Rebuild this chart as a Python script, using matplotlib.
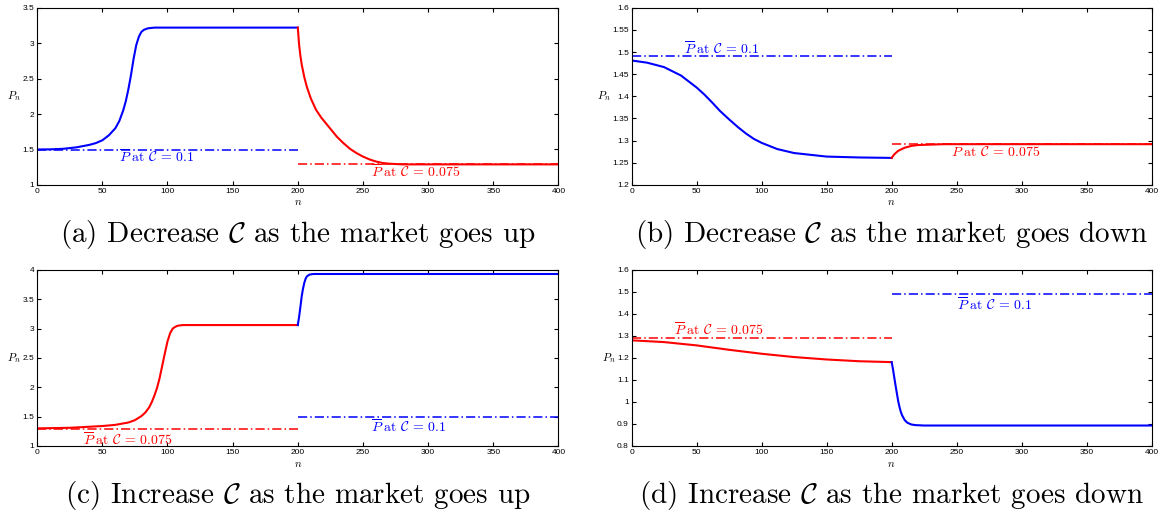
import matplotlib
matplotlib.use("Agg")
import matplotlib.pyplot as plt
from matplotlib.ticker import FuncFormatter, MultipleLocator

plt.rcParams['mathtext.fontset'] = 'cm'
plt.rcParams['font.family'] = ['Liberation Sans', 'DejaVu Sans']

# (a) decrease C as the market goes up
a_blue_n = [0, 10, 20, 30, 40, 45, 50, 55, 60, 63, 66, 68, 70, 72, 74, 76, 78, 80, 82, 85, 90, 120, 200]
a_blue_p = [1.50, 1.502, 1.51, 1.53, 1.565, 1.59, 1.63, 1.70, 1.80, 1.90, 2.05, 2.18, 2.35, 2.55, 2.78,
            2.97, 3.09, 3.16, 3.19, 3.21, 3.22, 3.22, 3.22]
a_red_n = [200, 200.5, 201, 202, 203, 205, 207, 210, 214, 218, 222, 226, 230, 235, 240, 245, 250, 255,
           260, 265, 270, 280, 320, 400]
a_red_p = [3.22, 3.10, 2.98, 2.82, 2.70, 2.52, 2.38, 2.22, 2.06, 1.95, 1.86, 1.77, 1.68, 1.59, 1.51, 1.45,
           1.40, 1.36, 1.33, 1.31, 1.30, 1.29, 1.29, 1.29]

# (b) decrease C as the market goes down
b_blue_n = [0, 12, 25, 38, 50, 56, 62, 68, 75, 82, 88, 94, 100, 112, 125, 150, 175, 200]
b_blue_p = [1.481, 1.476, 1.466, 1.447, 1.42, 1.404, 1.386, 1.367, 1.348, 1.330, 1.316, 1.304, 1.295,
            1.281, 1.272, 1.264, 1.262, 1.261]
b_red_n = [200, 202, 205, 210, 215, 220, 230, 240, 300, 400]
b_red_p = [1.261, 1.269, 1.277, 1.284, 1.288, 1.290, 1.291, 1.292, 1.292, 1.292]

# (c) increase C as the market goes up
c_red_n = [0, 25, 50, 60, 70, 75, 80, 83, 86, 88, 90, 92, 94, 96, 98, 100, 102, 104, 106, 108, 112, 120, 200]
c_red_p = [1.30, 1.31, 1.34, 1.36, 1.40, 1.44, 1.51, 1.57, 1.66, 1.75, 1.86, 1.99, 2.16, 2.37, 2.58, 2.78,
           2.92, 3.00, 3.03, 3.05, 3.06, 3.06, 3.06]
c_blue_n = [200, 200.5, 201, 202, 203, 204, 205, 206, 207, 209, 212, 220, 400]
c_blue_p = [3.06, 3.13, 3.20, 3.37, 3.55, 3.68, 3.78, 3.85, 3.89, 3.92, 3.93, 3.93, 3.93]

# (d) increase C as the market goes down
d_red_n = [0, 25, 50, 75, 100, 125, 150, 175, 200]
d_red_p = [1.28, 1.272, 1.257, 1.237, 1.219, 1.204, 1.193, 1.185, 1.181]
d_blue_n = [200, 201, 202, 203, 204, 205, 206, 207, 208, 210, 212, 215, 218, 225, 400]
d_blue_p = [1.181, 1.15, 1.112, 1.075, 1.04, 1.005, 0.978, 0.956, 0.94, 0.918, 0.906, 0.898, 0.895,
            0.893, 0.893]

# long-run levels P-bar for each C
pbar_c01 = 1.49
pbar_c0075 = 1.29
pbar_c01_b = 1.492
pbar_c0075_b = 1.292

label_01 = r'$\overline{P}\ \mathrm{at}\ \mathcal{C}\, =\, 0.1$'
label_0075 = r'$\overline{P}\ \mathrm{at}\ \mathcal{C}\, =\, 0.075$'

panels = [
    dict(pos=[0.032, 0.643, 0.449, 0.342], ylim=(1, 3.5), step=0.5,
         curves=[(a_blue_n, a_blue_p, 'b'), (a_red_n, a_red_p, 'r')],
         levels=[(0, 200, pbar_c01, 'b'), (200, 400, pbar_c0075, 'r')],
         notes=[(63, 1.39, label_01, 'b'), (256, 1.18, label_0075, 'r')],
         caption=r'(a) Decrease $\mathcal{C}$ as the market goes up'),
    dict(pos=[0.544, 0.643, 0.448, 0.342], ylim=(1.2, 1.6), step=0.05,
         curves=[(b_blue_n, b_blue_p, 'b'), (b_red_n, b_red_p, 'r')],
         levels=[(0, 200, pbar_c01_b, 'b'), (200, 400, pbar_c0075_b, 'r')],
         notes=[(40, 1.507, label_01, 'b'), (246, 1.275, label_0075, 'r')],
         caption=r'(b) Decrease $\mathcal{C}$ as the market goes down'),
    dict(pos=[0.032, 0.139, 0.449, 0.340], ylim=(1, 4), step=0.5,
         curves=[(c_red_n, c_red_p, 'r'), (c_blue_n, c_blue_p, 'b')],
         levels=[(0, 200, pbar_c0075, 'r'), (200, 400, pbar_c01, 'b')],
         notes=[(35, 1.11, label_0075, 'r'), (256, 1.32, label_01, 'b')],
         caption=r'(c) Increase $\mathcal{C}$ as the market goes up'),
    dict(pos=[0.544, 0.139, 0.448, 0.340], ylim=(0.8, 1.6), step=0.1,
         curves=[(d_red_n, d_red_p, 'r'), (d_blue_n, d_blue_p, 'b')],
         levels=[(0, 200, pbar_c0075, 'r'), (200, 400, pbar_c01, 'b')],
         notes=[(33, 1.325, label_0075, 'r'), (250, 1.44, label_01, 'b')],
         caption=r'(d) Increase $\mathcal{C}$ as the market goes down'),
]

fig = plt.figure(figsize=(11.61, 5.18), dpi=100)

for p in panels:
    ax = fig.add_axes(p['pos'])
    for xs, ys, c in p['curves']:
        ax.plot(xs, ys, color=c, lw=1.5)
    for x0, x1, y, c in p['levels']:
        ax.plot([x0, x1], [y, y], color=c, lw=1.1, ls=(0, (6, 2, 1, 2)))
    for x, y, s, c in p['notes']:
        ax.text(x, y, s, color=c, fontsize=10, va='center', ha='left')
    ax.set_xlim(0, 400)
    ax.set_ylim(*p['ylim'])
    ax.xaxis.set_major_locator(MultipleLocator(50))
    ax.yaxis.set_major_locator(MultipleLocator(p['step']))
    ax.yaxis.set_major_formatter(FuncFormatter(lambda v, _: '%g' % round(v, 4)))
    ax.tick_params(direction='in', top=True, right=True, labelsize=6, length=3, pad=2)
    for s in ax.spines.values():
        s.set_linewidth(0.8)
    ax.set_xlabel(r'$n$', fontsize=8, labelpad=2)
    ax.set_ylabel(r'$P_n$', fontsize=8, rotation=0, labelpad=6, va='center')
    box = p['pos']
    fig.text(box[0] + box[2] / 2, box[1] - 0.095, p['caption'],
             family='cmr10', fontsize=21, ha='center', va='center')

fig.savefig('out.png', dpi=100)
